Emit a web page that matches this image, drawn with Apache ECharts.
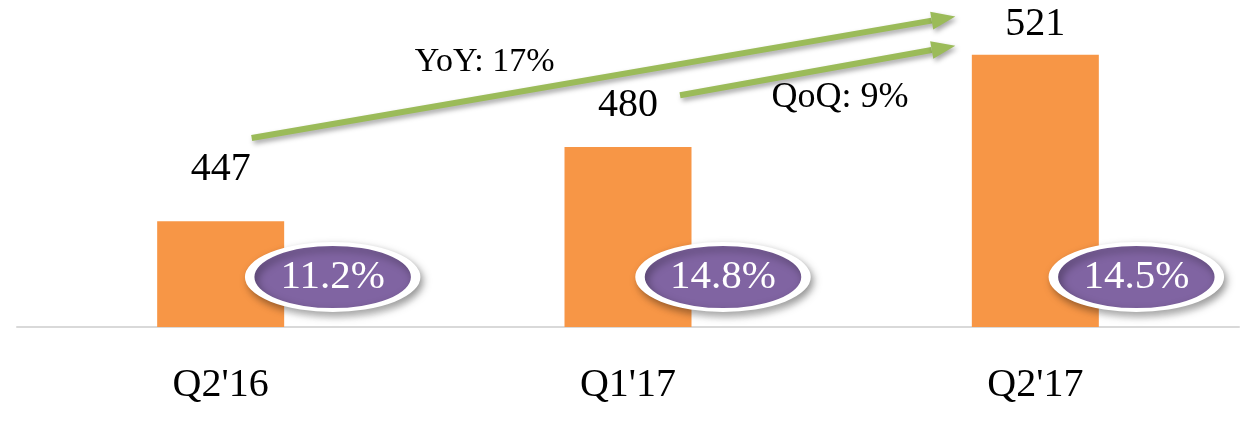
<!DOCTYPE html>
<html>
<head>
<meta charset="utf-8">
<script src="https://cdn.jsdelivr.net/npm/echarts@6/dist/echarts.min.js"></script>
<style>
  html, body { margin: 0; padding: 0; background: #fff; }
  #chart { width: 1242px; height: 426px; }
</style>
</head>
<body>
<div id="chart"></div>
<script>
const categories = ["Q2'16", "Q1'17", "Q2'17"];
const revenue = [447, 480, 521];
const margins = [11.2, 14.8, 14.5];
const growthLabels = ["YoY: 17%", "QoQ: 9%"];

const FONT = "'Liberation Serif', 'DejaVu Serif', serif";
// label gaps above bars and ellipse shifts, tuned to the picture
const labelGap = [32, 22, 10];
const ellipseShift = [112, 95, 101];

let chart = echarts.init(document.getElementById("chart"));

chart.setOption({
  animation: false,
  grid: { left: 17, right: 3, top: 12, bottom: 99 },
  xAxis: {
    type: "category",
    data: categories,
    axisLine: { lineStyle: { color: "#D9D9D9", width: 2 } },
    axisTick: { show: false },
    axisLabel: { color: "#000", fontSize: 40, fontFamily: FONT, margin: 38 },
  },
  yAxis: {
    type: "value",
    min: 400,
    max: 540,
    show: false,
    splitLine: { show: false },
  },
  series: [
    {
      type: "bar",
      barWidth: 127,
      itemStyle: { color: "#F79646" },
      data: revenue.map((v, i) => ({
        value: v,
        label: {
          show: true,
          position: "top",
          distance: labelGap[i],
          color: "#000",
          fontSize: 40,
          fontFamily: FONT,
        },
      })),
    },
    {
      type: "scatter",
      symbol: "circle",
      symbolSize: [166, 66],
      z: 5,
      itemStyle: {
        color: "#8064A2",
        opacity: 1,
        borderColor: "#fff",
        borderWidth: 6,
        shadowColor: "rgba(0,0,0,0.35)",
        shadowBlur: 8,
        shadowOffsetX: 3,
        shadowOffsetY: 4,
      },
      label: {
        show: true,
        position: "inside",
        color: "#fff",
        fontSize: 41,
        fontFamily: FONT,
        formatter: (p) => margins[p.dataIndex] + "%",
      },
      data: categories.map((c, i) => ({
        value: [c, 400],
        symbolOffset: [ellipseShift[i], -50],
      })),
    },
  ],
});

// growth arrows, anchored to the axis scale
function px(cat, val) {
  return chart.convertToPixel({ xAxisIndex: 0, yAxisIndex: 0 }, [cat, val]);
}

function arrow(a, b) {
  const dx = b[0] - a[0], dy = b[1] - a[1];
  const len = Math.sqrt(dx * dx + dy * dy);
  const ux = dx / len, uy = dy / len;
  const head = 24, half = 9;
  const base = [b[0] - ux * head, b[1] - uy * head];
  const shadow = {
    shadowColor: "rgba(0,0,0,0.35)",
    shadowBlur: 5,
    shadowOffsetX: 2,
    shadowOffsetY: 3,
  };
  return [
    {
      type: "line",
      shape: { x1: a[0], y1: a[1], x2: base[0], y2: base[1] },
      style: Object.assign({ stroke: "#9BBB59", lineWidth: 6 }, shadow),
      z: 10,
    },
    {
      type: "polygon",
      shape: {
        points: [
          b,
          [base[0] - uy * half, base[1] + ux * half],
          [base[0] + uy * half, base[1] - ux * half],
        ],
      },
      style: Object.assign({ fill: "#9BBB59" }, shadow),
      z: 10,
    },
  ];
}

const p1 = px(categories[0], 484);
const p2 = px(categories[2], 538);
const q1 = px(categories[1], 503);
const q2 = px(categories[2], 525);

const yoyStart = [p1[0] + 31, p1[1]];
const yoyEnd = [p2[0] - 80, p2[1]];
const qoqStart = [q1[0] + 52, q1[1]];
const qoqEnd = [q2[0] - 80, q2[1]];

chart.setOption({
  graphic: [
    ...arrow(yoyStart, yoyEnd),
    ...arrow(qoqStart, qoqEnd),
    {
      type: "text",
      x: yoyStart[0] + 233,
      y: yoyStart[1] - 76,
      style: {
        text: growthLabels[0],
        fill: "#000",
        font: "34px " + FONT,
        textAlign: "center",
        textVerticalAlign: "middle",
      },
    },
    {
      type: "text",
      x: qoqStart[0] + 160,
      y: qoqStart[1] + 2,
      style: {
        text: growthLabels[1],
        fill: "#000",
        font: "36px " + FONT,
        textAlign: "center",
        textVerticalAlign: "middle",
      },
    },
  ],
});

window.addEventListener("resize", () => {
  chart.resize();
});
</script>
</body>
</html>
